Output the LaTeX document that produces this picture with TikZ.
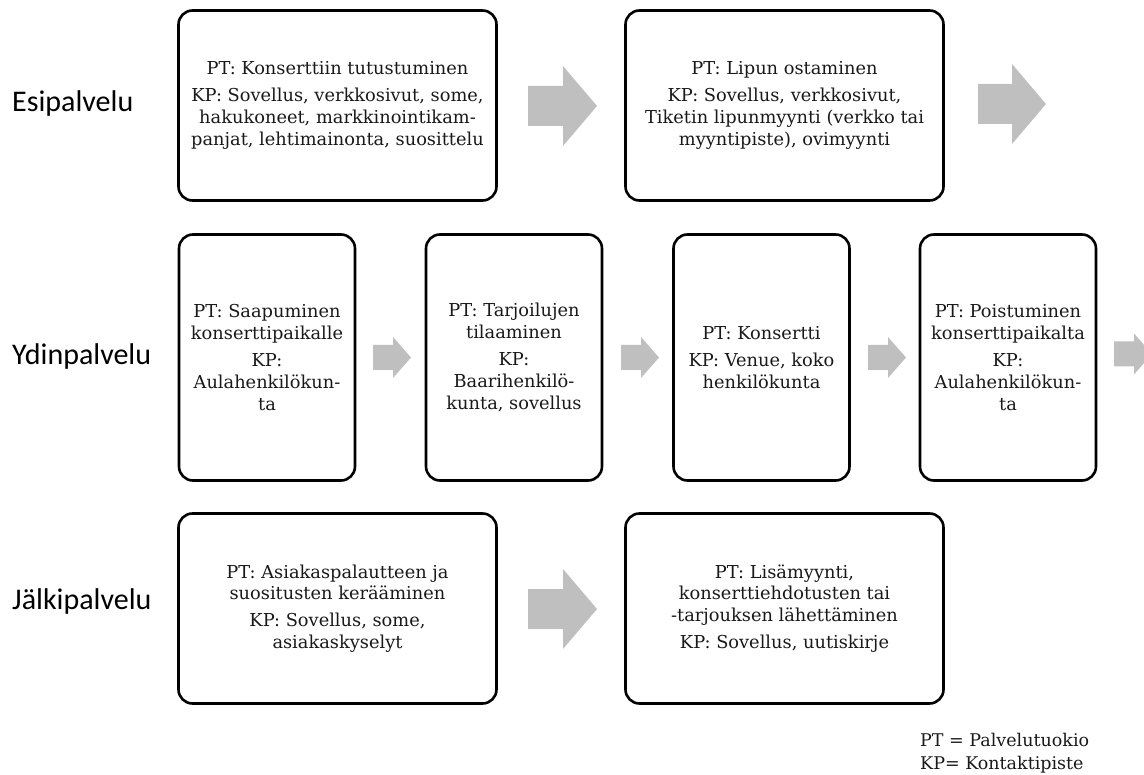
\documentclass[tikz,border=0pt]{standalone}
\usepackage{fontspec}
\setmainfont{DejaVu Serif}
\newfontfamily\labelfont{Carlito}
\definecolor{arrowgray}{RGB}{191,191,191}
\definecolor{txt}{RGB}{25,25,25}
\newcommand{\blkarrow}[6]{% x0, x1, cy, shaft half, head half, head length
  \fill[arrowgray] (#1,#3-#4) -- (#2-#6,#3-#4) -- (#2-#6,#3-#5) -- (#2,#3) -- (#2-#6,#3+#5) -- (#2-#6,#3+#4) -- (#1,#3+#4) -- cycle;}
\begin{document}
\begin{tikzpicture}[x=1pt,y=-1pt,
  box/.style={draw=black, line width=2.6pt, rounded corners=14pt, align=center,
    text=txt, font=\fontsize{17.8}{21.8}\selectfont, inner sep=0pt},
  wide/.style={box, minimum width=318pt, minimum height=190pt},
  tall/.style={box, minimum width=176pt, minimum height=246pt},
  lbl/.style={font=\labelfont\fontsize{30}{34}\selectfont, anchor=west, inner sep=0pt, text=black},
  legend/.style={font=\fontsize{17.5}{22.5}\selectfont, align=left, anchor=west, inner sep=0pt, text=txt}
]
\useasboundingbox (0,0) rectangle (1144,775);
\clip (0,0) rectangle (1144,775);

% row labels
\node[lbl] (l1) at (12,104) {Esipalvelu};
\node[lbl] (l2) at (12,357) {Ydinpalvelu};
\node[lbl] (l3) at (12,602) {Jälkipalvelu};

% row 1
\node[wide] (e1) at (337.5,105.5) {PT: Konserttiin tutustuminen\\[5pt]
  KP: Sovellus, verkkosivut, some,\\ hakukoneet, markkinointikam-\\ panjat, lehtimainonta, suosittelu};
\node[wide] (e2) at (784.5,105.5) {PT: Lipun ostaminen\\[5pt]
  KP: Sovellus, verkkosivut,\\ Tiketin lipunmyynti (verkko tai\\ myyntipiste), ovimyynti};
\blkarrow{528}{597}{106}{20}{40}{34}
\blkarrow{978}{1046}{104}{20}{40}{34}

% row 2
\node[tall] (y1) at (267,357.5) {PT: Saapuminen\\ konserttipaikalle\\[5pt] KP:\\ Aulahenkilökun-\\ ta};
\node[tall] (y2) at (514,357.5) {PT: Tarjoilujen\\ tilaaminen\\[5pt] KP:\\ Baarihenkilö-\\ kunta, sovellus};
\node[tall] (y3) at (761.5,357.5) {PT: Konsertti\\[5pt] KP: Venue, koko\\ henkilökunta};
\node[tall] (y4) at (1008,357.5) {PT: Poistuminen\\ konserttipaikalta\\[5pt] KP:\\ Aulahenkilökun-\\ ta};
\blkarrow{373}{411}{357.5}{12.5}{20.5}{18}
\blkarrow{621}{659}{357.5}{12.5}{20.5}{18}
\blkarrow{868}{906}{357.5}{12.5}{20.5}{18}
\blkarrow{1114}{1152}{354}{12.5}{20.5}{18}

% row 3
\node[wide] (j1) at (337.5,608.5) {PT: Asiakaspalautteen ja\\ suositusten kerääminen\\[5pt]
  KP: Sovellus, some,\\ asiakaskyselyt};
\node[wide] (j2) at (784.5,608.5) {PT: Lisämyynti,\\ konserttiehdotusten tai\\ -tarjouksen lähettäminen\\[5pt]
  KP: Sovellus, uutiskirje};
\blkarrow{528}{597}{609}{20}{40}{34}

% legend
\node[legend] (lg) at (920,753) {PT = Palvelutuokio\\ KP= Kontaktipiste};
\end{tikzpicture}
\end{document}
